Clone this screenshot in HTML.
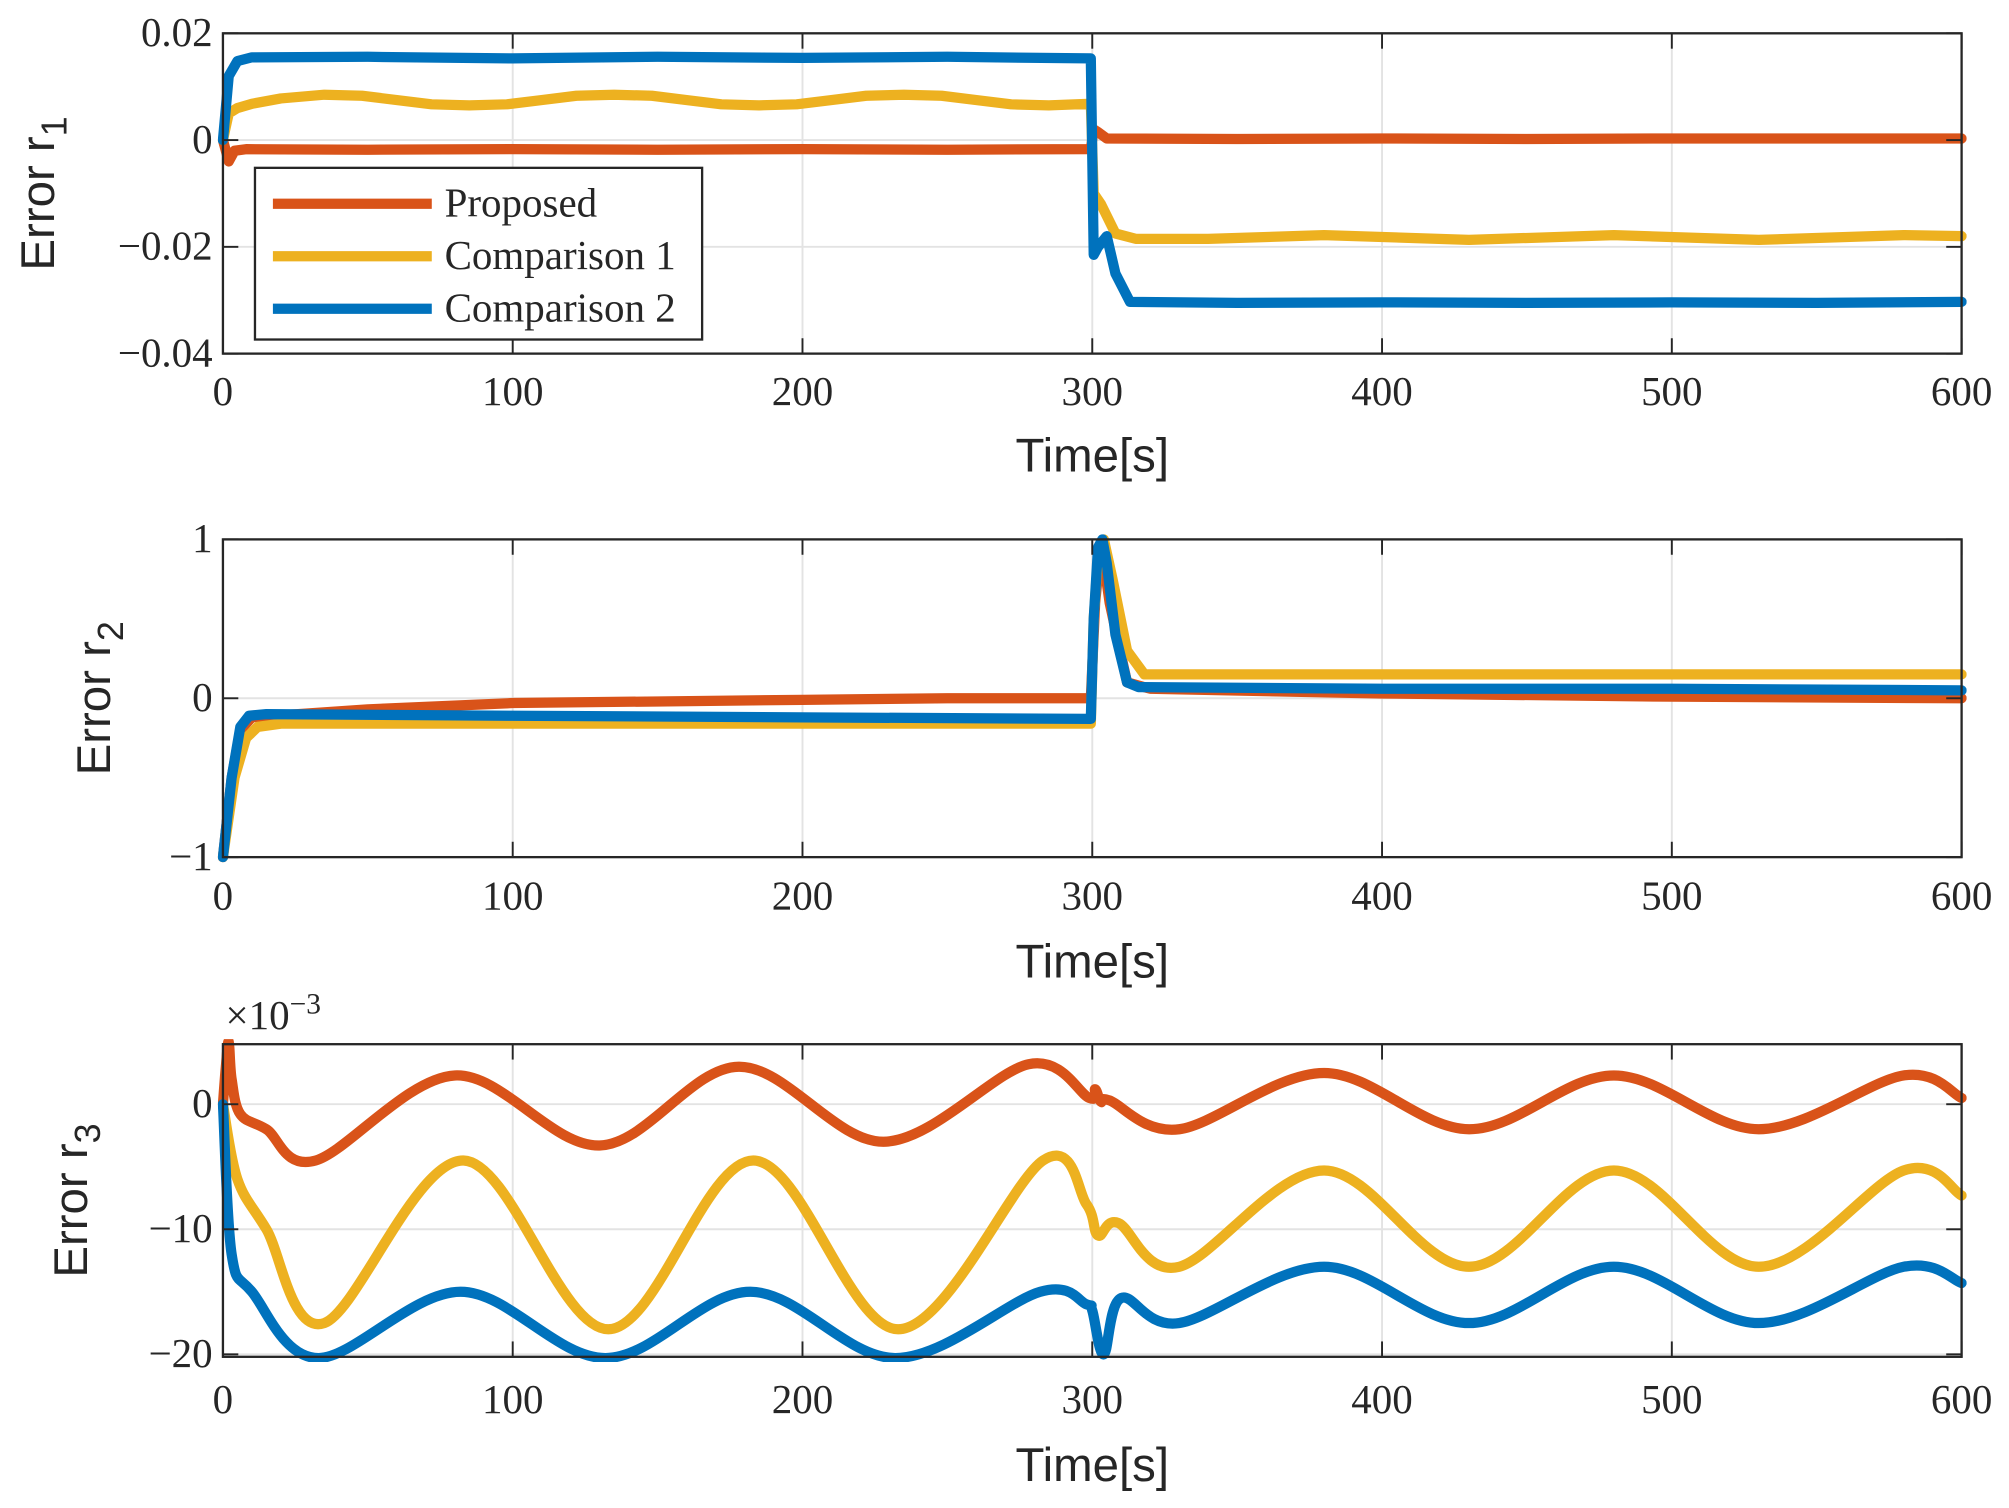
<!DOCTYPE html>
<html><head><meta charset="utf-8"><style>
html,body{margin:0;padding:0;background:#fff;}
svg{display:block;}
.tk{font-family:"Liberation Serif",serif;font-size:32px;fill:#262626;}
.lab{font-family:"Liberation Sans",sans-serif;font-size:37px;fill:#262626;}
</style></head><body>
<svg id="fig" width="2009" height="1508" viewBox="0 0 1568 1177" preserveAspectRatio="none" xmlns="http://www.w3.org/2000/svg"></svg>
<script>
const times = [0,100,200,300,400,500,600];
// Panel 1 (r1)
const p1Ticks = [0.02,0,-0.02,-0.04];
const p1TickLabels = ["0.02","0","\u22120.02","\u22120.04"];
const p1RedT = [0,2,4,8,50,100,150,200,250,299.5,300.5,302,305,350,400,450,500,550,600];
const p1RedV = [0,-0.004,-0.002,-0.0017,-0.0018,-0.0017,-0.0018,-0.0017,-0.0018,-0.0017,0.002,0.0015,0.0003,0.0002,0.0003,0.0002,0.0003,0.0003,0.0003];
const p1YelT = [0,2,5,10,20,35,48,60,72,85,98,110,122,135,148,160,172,185,198,210,222,235,248,260,272,285,299.5,300.5,303,308,315,340,380,430,480,530,580,600];
const p1YelV = [0,0.005,0.006,0.0068,0.0078,0.0085,0.0083,0.0075,0.0067,0.0065,0.0067,0.0075,0.0083,0.0085,0.0083,0.0075,0.0067,0.0065,0.0067,0.0075,0.0083,0.0085,0.0083,0.0075,0.0067,0.0065,0.0068,-0.01,-0.012,-0.0175,-0.0185,-0.0185,-0.0178,-0.0187,-0.0178,-0.0187,-0.0178,-0.018];
const p1BluT = [0,2,5,10,50,100,150,200,250,299.5,300.5,302,305,308,313,350,400,450,500,550,600];
const p1BluV = [0,0.012,0.0148,0.0155,0.0156,0.0153,0.0156,0.0154,0.0156,0.0153,-0.0215,-0.02,-0.018,-0.025,-0.0303,-0.0305,-0.0304,-0.0305,-0.0304,-0.0305,-0.0303];
// Panel 2 (r2)
const p2Ticks = [1,0,-1];
const p2TickLabels = ["1","0","\u22121"];
const p2RedT = [0,3,6,10,50,100,150,200,250,299.5,301,303,306,312,320,400,500,600];
const p2RedV = [-1,-0.5,-0.2,-0.12,-0.07,-0.03,-0.02,-0.01,0,0,0.6,0.98,0.6,0.1,0.06,0.03,0.01,0];
const p2YelT = [0,4,8,12,20,100,200,299.5,300.5,302,304,307,312,318,400,500,600];
const p2YelV = [-1,-0.5,-0.25,-0.18,-0.16,-0.16,-0.16,-0.16,0.5,0.9,1,0.75,0.3,0.15,0.15,0.15,0.15];
const p2BluT = [0,3,6,9,15,100,200,299.5,300.5,302,303.5,305,308,312,316,400,500,600];
const p2BluV = [-1,-0.5,-0.18,-0.11,-0.1,-0.11,-0.12,-0.13,0.5,0.95,1,0.85,0.4,0.1,0.07,0.06,0.06,0.05];
// Panel 3 (r3, x1e-3)
const p3Ticks = [0,-10,-20];
const p3TickLabels = ["0","\u221210","\u221220"];
const p3RedT = [0,1,2,3,6,15,32,80,130,178,228,278,299,301,303,306,330,380,430,480,530,580,600];
const p3RedV = [0,3,5,2,-0.8,-2,-4.5,2.3,-3.3,3,-3,3.2,0.5,1.2,0.2,0.3,-2,2.5,-2,2.3,-2,2.3,0.5];
const p3YelT = [0,5,15,35,83,133,183,233,283,298,302,309,330,380,430,480,530,580,600];
const p3YelV = [0,-6,-10,-17.5,-4.5,-18,-4.5,-18,-4.5,-8,-10.5,-9.5,-13,-5.3,-13,-5.3,-13,-5.3,-7.3];
const p3BluT = [0,3,10,33,82,132,182,232,282,298,300,304,310,330,380,430,480,530,580,600];
const p3BluV = [0,-12,-15,-20.3,-15,-20.3,-15,-20.3,-15,-16,-16.5,-20,-15.5,-17.5,-13,-17.5,-13,-17.5,-13,-14.3];

const NS="http://www.w3.org/2000/svg";
const svg=document.getElementById('fig');
const COL={red:"#D95319",yel:"#EDB120",blu:"#0072BD"};
function mk(tag,attrs,parent){const e=document.createElementNS(NS,tag);for(const k in attrs)e.setAttribute(k,attrs[k]);(parent||svg).appendChild(e);return e;}
const X0=174,X1=1531;
function xs(t){return X0+(t-0)/(600-0)*(X1-X0);}

function panel(name,top,bottom,ymax,ymin,ticks,labels,series,smooth,ylabel,ylabX,tickLabelY,xlabY){
  const g=mk('g',{});
  
  
  const ys=v=>top+(ymax-v)/(ymax-ymin)*(bottom-top);
  times.forEach(t=>{const l=mk('line',{x1:xs(t),x2:xs(t),y1:top,y2:bottom,stroke:'#e3e3e3','stroke-width':1.5},g);
    });
  ticks.forEach(v=>{const l=mk('line',{x1:X0,x2:X1,y1:ys(v),y2:ys(v),stroke:'#e3e3e3','stroke-width':1.5},g);
    });
  const clip=mk('clipPath',{id:'c'+name},g);mk('rect',{x:X0-4,y:top-4,width:X1-X0+8,height:bottom-top+8},clip);
  series.forEach(s=>{
    const pts=s.t.map((t,i)=>[xs(t),ys(s.v[i])]);
    let d='M'+pts[0][0]+' '+pts[0][1];
    if(smooth){
      for(let i=0;i<pts.length-1;i++){
        const p0=pts[Math.max(0,i-1)],p1=pts[i],p2=pts[i+1],p3=pts[Math.min(pts.length-1,i+2)];
        const c1=[p1[0]+(p2[0]-p0[0])/6,p1[1]+(p2[1]-p0[1])/6];
        const c2=[p2[0]-(p3[0]-p1[0])/6,p2[1]-(p3[1]-p1[1])/6];
        d+=' C'+c1+' '+c2+' '+p2;
      }
    } else {for(let i=1;i<pts.length;i++)d+=' L'+pts[i][0]+' '+pts[i][1];}
    const p=mk('path',{d:d,fill:'none',stroke:s.c,'stroke-width':8,'stroke-linejoin':'round','stroke-linecap':'round','clip-path':'url(#c'+name+')'},g);
    
  });
  const b=mk('rect',{x:X0,y:top,width:X1-X0,height:bottom-top,fill:'none',stroke:'#262626','stroke-width':1.8},g);
  
  times.forEach(t=>{mk('line',{x1:xs(t),x2:xs(t),y1:bottom,y2:bottom-12,stroke:'#262626','stroke-width':1.5},g);
    mk('line',{x1:xs(t),x2:xs(t),y1:top,y2:top+12,stroke:'#262626','stroke-width':1.5},g);
    const tx=mk('text',{x:xs(t),y:tickLabelY,'text-anchor':'middle',class:'tk'},g);tx.textContent=String(t);
    });
  ticks.forEach((v,i)=>{mk('line',{x1:X0,x2:X0+12,y1:ys(v),y2:ys(v),stroke:'#262626','stroke-width':1.5},g);
    mk('line',{x1:X1,x2:X1-12,y1:ys(v),y2:ys(v),stroke:'#262626','stroke-width':1.5},g);
    const tx=mk('text',{x:X0-8,y:ys(v)+10,'text-anchor':'end',class:'tk'},g);tx.textContent=labels[i];
    });
  const xl=mk('text',{x:(X0+X1)/2,y:xlabY,'text-anchor':'middle',class:'lab'},g);xl.textContent='Time[s]';
  
  const cy=(top+bottom)/2;
  const yl=mk('text',{x:ylabX,y:cy,'text-anchor':'middle',class:'lab',transform:'rotate(-90 '+ylabX+' '+cy+')'},g);
  yl.innerHTML='Error r<tspan dy="10" font-size="28">'+ylabel+'</tspan>';
  
  return g;
}
panel('panel-r1',26,276,0.02,-0.04,p1Ticks,p1TickLabels,[
 {t:p1RedT,v:p1RedV,c:COL.red,n:'proposed-line'},{t:p1YelT,v:p1YelV,c:COL.yel,n:'comparison-1-line'},{t:p1BluT,v:p1BluV,c:COL.blu,n:'comparison-2-line'}],false,'1',42,316,368);
panel('panel-r2',421,669,1,-1,p2Ticks,p2TickLabels,[
 {t:p2RedT,v:p2RedV,c:COL.red,n:'proposed-line'},{t:p2YelT,v:p2YelV,c:COL.yel,n:'comparison-1-line'},{t:p2BluT,v:p2BluV,c:COL.blu,n:'comparison-2-line'}],false,'2',86,710,763);
panel('panel-r3',815,1059,4.8,-20.2,p3Ticks,p3TickLabels,[
 {t:p3RedT,v:p3RedV,c:COL.red,n:'proposed-line'},{t:p3YelT,v:p3YelV,c:COL.yel,n:'comparison-1-line'},{t:p3BluT,v:p3BluV,c:COL.blu,n:'comparison-2-line'}],true,'3',68,1103,1156);
const ex=mk('text',{x:176,y:803,class:'tk'});
ex.innerHTML='\u00d710<tspan dy="-12" font-size="23">\u22123</tspan>';


const lg=mk('g',{});


mk('rect',{x:199,y:131,width:349,height:134,fill:'#fff',stroke:'#262626','stroke-width':1.8},lg);
const legNames=['Proposed','Comparison 1','Comparison 2'];
const legCols=[COL.red,COL.yel,COL.blu];
legNames.forEach((n,i)=>{
  const y=159+i*41;
  const e=mk('g',{},lg);
  
  
  mk('line',{x1:213,x2:337,y1:y,y2:y,stroke:legCols[i],'stroke-width':8},e);
  const t=mk('text',{x:347,y:y+10,class:'tk'},e);t.textContent=n;
});
</script>
</body></html>
